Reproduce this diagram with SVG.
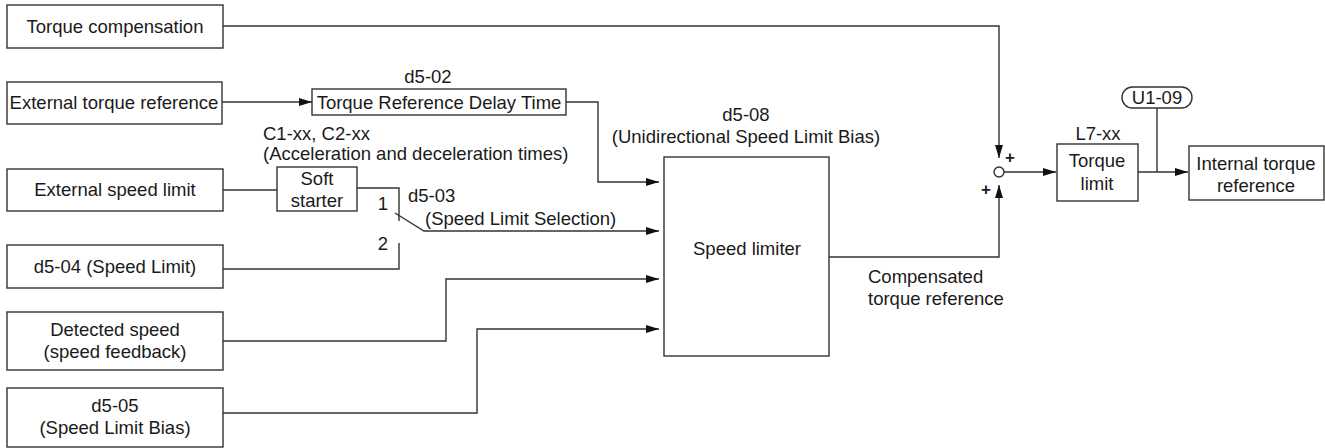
<svg xmlns="http://www.w3.org/2000/svg" width="1325" height="448" viewBox="0 0 1325 448">
<style>
text{font-family:"Liberation Sans",Arial,sans-serif;font-size:18.5px;fill:#1a1a1a}
.c{text-anchor:middle}
.b{fill:#fff;stroke:#333;stroke-width:1.4}
.l{fill:none;stroke:#333;stroke-width:1.4}
.p{font-size:17px;font-weight:bold}
</style>
<defs>
<marker id="a" markerWidth="13" markerHeight="8" refX="13" refY="4" orient="auto" markerUnits="userSpaceOnUse">
<path d="M0,0 L13,4 L0,8 z" fill="#111"/>
</marker>
</defs>
<rect width="1325" height="448" fill="#fff"/>
<g id="connectors">
<path class="l" d="M223,26 H999 V158" marker-end="url(#a)"/>
<path class="l" d="M222,102 H312" marker-end="url(#a)"/>
<path class="l" d="M566,102 H598 V182 H659" marker-end="url(#a)"/>
<path class="l" d="M223,190 H277"/>
<path class="l" d="M357,188 H399 V221"/>
<path class="l" d="M395,213 L424,231 H659" marker-end="url(#a)"/>
<path class="l" d="M223,269 H399 V243"/>
<path class="l" d="M223,341 H446 V279 H659" marker-end="url(#a)"/>
<path class="l" d="M223,413 H477 V329 H659" marker-end="url(#a)"/>
<path class="l" d="M829,257 H999 V185" marker-end="url(#a)"/>
<path class="l" d="M1004,172 H1056" marker-end="url(#a)"/>
<path class="l" d="M1138,172 H1188" marker-end="url(#a)"/>
<path class="l" d="M1157,108 V172"/>
<circle cx="999" cy="172" r="5" class="b"/>
<text x="1010" y="163" class="c p">+</text>
<text x="986" y="195" class="c p">+</text>
<text x="383" y="210" class="c">1</text>
<text x="383" y="250" class="c">2</text>
<text x="408" y="202">d5-03</text>
<text x="425" y="225">(Speed Limit Selection)</text>
<text x="868" y="283">Compensated</text>
<text x="868" y="305">torque reference</text>
</g>
<g id="torque-compensation">
<rect class="b" x="7" y="5" width="216" height="43"/>
<text x="115" y="33" class="c">Torque compensation</text>
</g>
<g id="external-torque-reference">
<rect class="b" x="7" y="82" width="215" height="42"/>
<text x="114" y="109" class="c">External torque reference</text>
</g>
<g id="torque-reference-delay-time">
<text x="428" y="83" class="c">d5-02</text>
<rect class="b" x="312" y="89" width="254" height="26"/>
<text x="439" y="109" class="c">Torque Reference Delay Time</text>
</g>
<g id="external-speed-limit">
<rect class="b" x="7" y="169" width="216" height="42"/>
<text x="115" y="196" class="c">External speed limit</text>
</g>
<g id="soft-starter">
<text x="263" y="140">C1-xx, C2-xx</text>
<text x="263" y="160">(Acceleration and deceleration times)</text>
<rect class="b" x="277" y="167" width="80" height="44"/>
<text x="317" y="185" class="c">Soft</text>
<text x="317" y="207" class="c">starter</text>
</g>
<g id="speed-limit">
<rect class="b" x="7" y="245" width="216" height="43"/>
<text x="115" y="273" class="c">d5-04 (Speed Limit)</text>
</g>
<g id="detected-speed">
<rect class="b" x="7" y="312" width="216" height="58"/>
<text x="115" y="336" class="c">Detected speed</text>
<text x="115" y="358" class="c">(speed feedback)</text>
</g>
<g id="speed-limit-bias">
<rect class="b" x="7" y="388" width="216" height="59"/>
<text x="115" y="412" class="c">d5-05</text>
<text x="115" y="434" class="c">(Speed Limit Bias)</text>
</g>
<g id="speed-limiter">
<text x="746" y="121" class="c">d5-08</text>
<text x="746" y="143" class="c">(Unidirectional Speed Limit Bias)</text>
<rect class="b" x="664" y="157" width="165" height="199"/>
<text x="747" y="255" class="c">Speed limiter</text>
</g>
<g id="torque-limit">
<text x="1098" y="140" class="c">L7-xx</text>
<rect class="b" x="1057" y="144" width="81" height="57"/>
<text x="1097" y="167" class="c">Torque</text>
<text x="1097" y="190" class="c">limit</text>
</g>
<g id="u1-09">
<rect class="b" x="1122" y="87" width="70" height="21" rx="10.5"/>
<text x="1157" y="104" class="c">U1-09</text>
</g>
<g id="internal-torque-reference">
<rect class="b" x="1189" y="146" width="135" height="54"/>
<text x="1256" y="170" class="c">Internal torque</text>
<text x="1256" y="192" class="c">reference</text>
</g>
</svg>
